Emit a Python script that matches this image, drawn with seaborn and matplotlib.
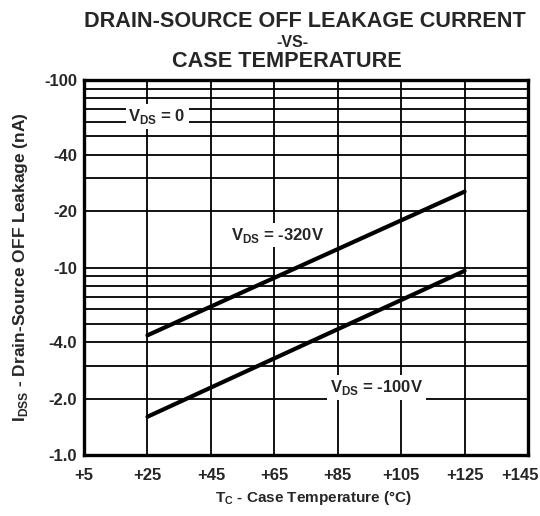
import matplotlib
matplotlib.use("Agg")
import matplotlib.pyplot as plt
import matplotlib.ticker as mticker
import matplotlib.transforms as mtransforms
import seaborn as sns
import pandas as pd

# --- DATA ---
temps = [25, 125]
leak_320v = [4.35, 25.4]   # |I_DSS| nA at V_DS = -320V
leak_100v = [1.6, 9.6]     # |I_DSS| nA at V_DS = -100V
x_ticks = [5, 25, 45, 65, 85, 105, 125, 145]
y_ticks = [1, 2, 4, 10, 20, 40, 100]
y_tick_labels = ["-1.0", "-2.0", "-4.0", "-10", "-20", "-40", "-100"]

df = pd.DataFrame({
    "temp": temps + temps,
    "leak": leak_320v + leak_100v,
    "series": ["-320V"] * 2 + ["-100V"] * 2,
})

sns.set_style("white")
plt.rcParams["font.family"] = ["Liberation Sans", "DejaVu Sans"]
plt.rcParams["font.weight"] = "bold"

fig = plt.figure(figsize=(5.4, 5.16), dpi=100)
ax = fig.add_axes([0.1556, 0.1182, 0.8222, 0.7267])

sns.lineplot(data=df, x="temp", y="leak", units="series", estimator=None,
             color="black", linewidth=3.0, ax=ax, legend=False)

ax.set_yscale("log")
ax.set_xlim(5, 145)
ax.set_ylim(1, 100)

ax.set_xticks(x_ticks)
ax.set_xticklabels([f"+{t}" for t in x_ticks])
ax.set_yticks(y_ticks)
ax.set_yticklabels(y_tick_labels)
ax.yaxis.set_minor_locator(mticker.LogLocator(base=10, subs=range(2, 10)))
ax.yaxis.set_minor_formatter(mticker.NullFormatter())

ax.grid(True, which="both", axis="y", color="black", linewidth=1.3)
ax.grid(True, which="major", axis="x", color="black", linewidth=1.3)
ax.tick_params(axis="x", which="both", length=0, labelsize=12, pad=9)
ax.tick_params(axis="y", which="both", length=0, labelsize=12, pad=5)
for lab in ax.get_xticklabels() + ax.get_yticklabels():
    lab.set_fontweight("bold")

# last x label sits a bit inside the figure edge
last = ax.get_xticklabels()[-1]
last.set_transform(last.get_transform() +
                   mtransforms.ScaledTranslation(-8 / 100, 0, fig.dpi_scale_trans))

for s in ax.spines.values():
    s.set_linewidth(2.4)
    s.set_color("black")

# curve labels
box = dict(facecolor="white", edgecolor="none", pad=2)
ax.text(19, 64, r"V$_{\mathregular{DS}}$ = 0", fontsize=12, fontweight="bold",
        va="center", ha="left", bbox=box)
ax.text(51.5, 14.9, r"V$_{\mathregular{DS}}$ = -320V", fontsize=12, fontweight="bold",
        va="center", ha="left", bbox=box)
ax.text(82.5, 2.3, r"V$_{\mathregular{DS}}$ = -100V", fontsize=12, fontweight="bold",
        va="center", ha="left", bbox=box)

ax.set_xlabel(r"T$_{\mathregular{C}}$ - Case Temperature (°C)", fontsize=11,
              fontweight="bold", labelpad=7)
ax.xaxis.set_label_coords(0.517, -0.09)
ax.xaxis.label.set_va("top")
ax.set_ylabel(r"I$_{\mathregular{DSS}}$ - Drain-Source OFF Leakage (nA)", fontsize=12.5,
              fontweight="bold", labelpad=10)

fig.text(0.565, 0.9477, "DRAIN-SOURCE OFF LEAKAGE CURRENT", ha="center", va="baseline",
         fontsize=15.6, fontweight="bold")
fig.text(0.541, 0.909, "-VS-", ha="center", va="baseline", fontsize=11.5, fontweight="bold")
fig.text(0.532, 0.870, "CASE TEMPERATURE", ha="center", va="baseline",
         fontsize=15.6, fontweight="bold")

fig.savefig("out.png", dpi=100)
